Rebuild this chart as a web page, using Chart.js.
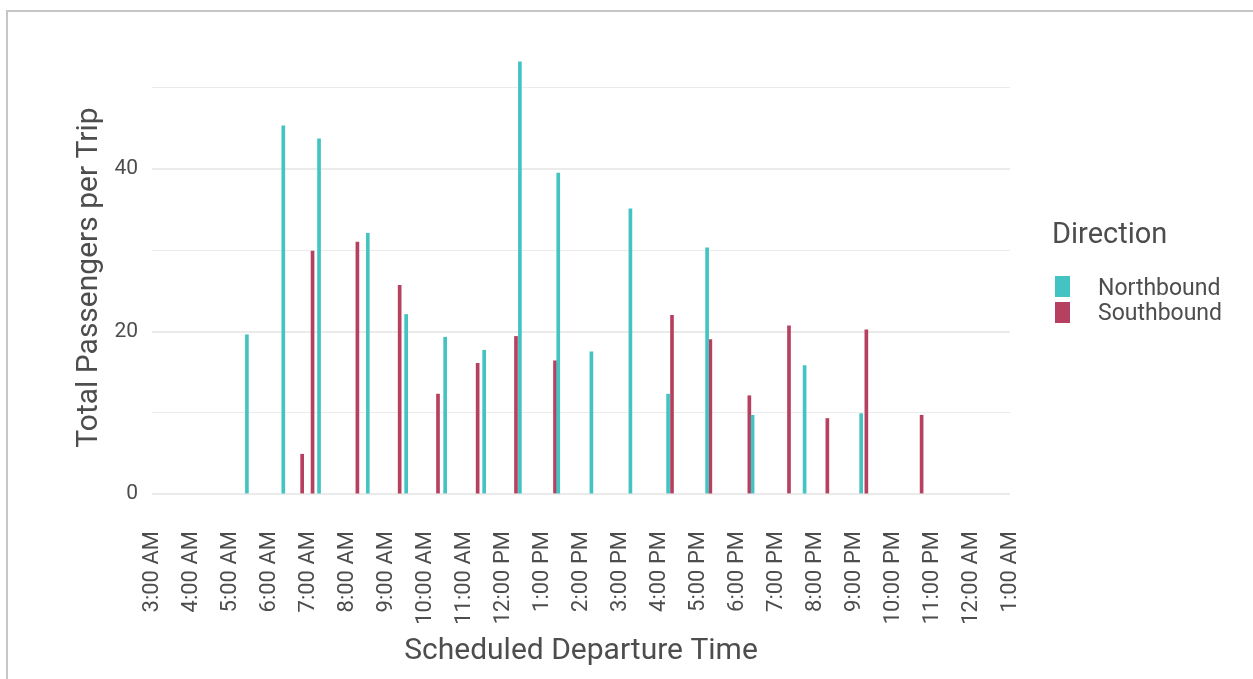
<!DOCTYPE html>
<html>
<head>
<meta charset="utf-8">
<script src="https://cdn.jsdelivr.net/npm/chart.js@4.4.1/dist/chart.umd.min.js"></script>
<style>
  body { margin: 0; background: #fff; font-family: Roboto, sans-serif; }
  #wrap { position: relative; width: 1253px; height: 679px; overflow: hidden; }
  #frame { position: absolute; left: 6px; top: 10px; width: 1300px; height: 700px;
           border-top: 2px solid #c6c6c6; border-left: 2px solid #c6c6c6; }
  canvas { position: absolute; left: 0; top: 0; }
  .leg { position: absolute; color: #4d4d4d; white-space: nowrap; }
  .key { position: absolute; width: 15px; height: 21px; }
</style>
</head>
<body>
<div id="wrap">
  <div id="frame"></div>
  <canvas id="departureChart" width="1253" height="679"></canvas>
  <div id="legend"></div>
</div>
<script>
const seriesNames = ['Northbound', 'Southbound'];
const seriesColors = ['#44c3c3', '#b5405f'];

// departure times (24h clock) and average riders per trip
const northTimes = ['5:26', '6:22', '7:17', '8:32', '9:31', '10:31', '11:31', '12:26',
                    '13:25', '14:16', '15:16', '16:14', '17:14', '18:24', '19:44', '21:11'];
const northValues = [19.6, 45.3, 43.7, 32.1, 22.1, 19.3, 17.7, 53.2,
                     39.5, 17.5, 35.1, 12.3, 30.3, 9.7, 15.8, 9.9];

const southTimes = ['6:51', '7:07', '8:16', '9:21', '10:20', '11:21', '12:20', '13:20',
                    '16:20', '17:19', '18:19', '19:20', '20:19', '21:19', '22:44'];
const southValues = [4.9, 29.9, 31.0, 25.7, 12.3, 16.1, 19.4, 16.4,
                     22.0, 19.0, 12.1, 20.7, 9.3, 20.2, 9.7];

const xStartHour = 3;
const xTickLabels = ['3:00 AM', '4:00 AM', '5:00 AM', '6:00 AM', '7:00 AM', '8:00 AM',
                     '9:00 AM', '10:00 AM', '11:00 AM', '12:00 PM', '1:00 PM', '2:00 PM',
                     '3:00 PM', '4:00 PM', '5:00 PM', '6:00 PM', '7:00 PM', '8:00 PM',
                     '9:00 PM', '10:00 PM', '11:00 PM', '12:00 AM', '1:00 AM'];
const yGridValues = [0, 10, 20, 30, 40, 50];
const yLabelValues = [0, 20, 40];

function toHours(t) {
    const parts = t.split(':');
    return Number(parts[0]) + Number(parts[1]) / 60;
}

function toPoints(times, values) {
    return times.map((t, i) => ({ x: toHours(t), y: values[i] }));
}

const textColor = '#4d4d4d';
const gridColor = '#ebebeb';

const ctx = document.getElementById('departureChart').getContext('2d');
const departureChart = new Chart(ctx, {
    type: 'bar',
    data: {
        datasets: [
            {
                label: seriesNames[0],
                data: toPoints(northTimes, northValues),
                backgroundColor: seriesColors[0],
                barThickness: 3,
                grouped: false
            },
            {
                label: seriesNames[1],
                data: toPoints(southTimes, southValues),
                backgroundColor: seriesColors[1],
                barThickness: 3,
                grouped: false
            }
        ]
    },
    options: {
        responsive: false,
        animation: false,
        layout: { padding: { left: 0, right: 243, top: 39, bottom: 0 } },
        plugins: {
            legend: { display: false },
            tooltip: { enabled: false }
        },
        scales: {
            x: {
                type: 'linear',
                offset: false,
                min: xStartHour,
                max: xStartHour + xTickLabels.length - 1,
                afterBuildTicks: scale => {
                    scale.ticks = xTickLabels.map((_, i) => ({ value: xStartHour + i }));
                },
                afterFit: scale => { scale.height = 163; },
                grid: { display: false, drawTicks: false },
                border: { display: false },
                ticks: {
                    autoSkip: false,
                    maxRotation: 90,
                    minRotation: 90,
                    padding: 15,
                    color: textColor,
                    font: { family: 'Roboto', size: 22 },
                    callback: (value, index) => xTickLabels[index]
                },
                title: {
                    display: true,
                    text: 'Scheduled Departure Time',
                    color: textColor,
                    font: { family: 'Roboto', size: 30, lineHeight: 1 },
                    padding: { top: 0, bottom: 13 }
                }
            },
            y: {
                min: -2.7,
                max: 56,
                afterBuildTicks: scale => {
                    scale.ticks = yGridValues.map(v => ({ value: v }));
                },
                afterFit: scale => { scale.width = 152; },
                grid: {
                    color: gridColor,
                    drawTicks: false,
                    lineWidth: c => (c.tick && yLabelValues.includes(c.tick.value)) ? 2 : 1
                },
                border: { display: false },
                ticks: {
                    padding: 14,
                    color: textColor,
                    font: { family: 'Roboto', size: 21 },
                    callback: value => yLabelValues.includes(value) ? String(value) : ''
                },
                title: {
                    display: true,
                    text: 'Total Passengers per Trip',
                    color: textColor,
                    font: { family: 'Roboto', size: 30, lineHeight: 1 },
                    padding: { top: 74, bottom: 0 }
                }
            }
        }
    }
});

// legend drawn as html next to the plot
const legend = document.getElementById('legend');
legend.innerHTML = '<div class="leg" style="left:1052px;top:219px;font-size:29px;line-height:29px">Direction</div>';
seriesNames.forEach((name, i) => {
    const keyTop = 276 + i * 26;
    legend.innerHTML +=
        `<div class="key" style="left:1055px;top:${keyTop}px;background:${seriesColors[i]}"></div>` +
        `<div class="leg" style="left:1098px;top:${276 + i * 25}px;font-size:23px;line-height:23px">${name}</div>`;
});
</script>
</body>
</html>
